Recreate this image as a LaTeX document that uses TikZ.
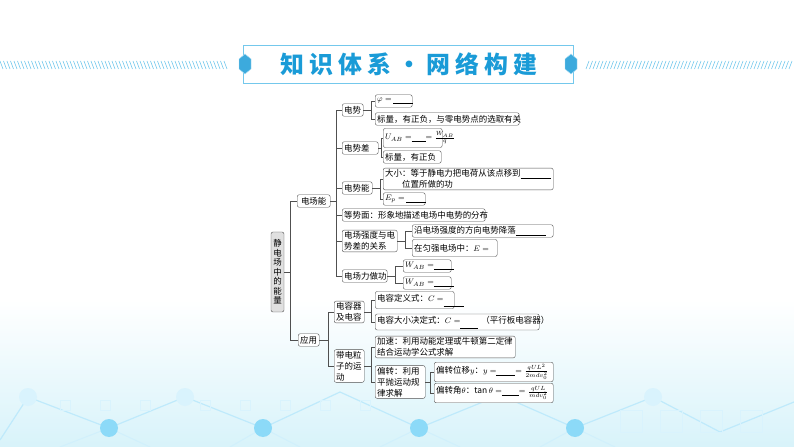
\documentclass[tikz,border=0pt]{standalone}
\usepackage{amsmath}
\usepackage{fontspec}
\setmainfont{Noto Sans CJK SC}
\newfontfamily\biaoti[LetterSpace=22]{Noto Sans CJK SC}
\usetikzlibrary{calc}

\definecolor{titlebl}{HTML}{1A9BD7}
\definecolor{linebl}{HTML}{74C8EC}
\definecolor{kuang}{HTML}{505050}
\definecolor{dibl}{HTML}{D8F3FA}

% blank to fill in
\newcommand{\tiankong}[2][-1.5bp]{\rule[#1]{#2}{0.4bp}}

\tikzset{
  kuai/.style={draw=kuang, rounded corners=2bp, fill=white, anchor=west,
    inner xsep=2bp, inner ysep=1.5bp, align=left, minimum height=12.5bp,
    font=\fontsize{8.5}{11}\selectfont},
  lian/.style={draw=kuang, line width=0.5bp},
}

\begin{document}
\begin{tikzpicture}[x=1bp, y=-1bp]
  \useasboundingbox (0,0) rectangle (794,447);

  % bottom background
  \shade[top color=white, bottom color=dibl] (0,300) rectangle (794,447);
  \draw[cyan!25, line width=1.2bp] (0,440) -- (28,397) -- (109,428) -- (185,397)
    -- (263,428) -- (340,392) -- (419,428) -- (500,395) -- (575,428)
    -- (653,397) -- (720,432) -- (794,402);
  \draw[cyan!18, line width=1bp] (60,447) -- (109,428) -- (150,447)
    (230,447) -- (263,428) -- (300,447) (380,447) -- (419,428) -- (460,447)
    (540,447) -- (575,428) -- (615,447);
  \foreach \x in {60,100,140,200,240,280,320,360} {
    \draw[cyan!15] (\x,400) rectangle ++(10,10);
  }
  \foreach \x in {620,660,700,740} {
    \draw[cyan!15] (\x,410) rectangle ++(22,22);
  }
  \foreach \x/\y in {28/397,185/397,653/397} {
    \fill[cyan!15] (\x,\y) circle (9);
  }
  \foreach \x/\y in {109/428,263/428,419/428,575/428} {
    \fill[cyan!45] (\x,\y) circle (9);
  }

  % title banner
  \foreach \i in {0,3.5,...,226} {
    \draw[linebl, line width=0.6bp] (\i,61) -- (\i+3,69);
  }
  \foreach \i in {586,589.5,...,792} {
    \draw[linebl, line width=0.6bp] (\i,69) -- (\i+3,61);
  }
  \draw[linebl, line width=0.8bp, fill=white] (243,45) rectangle (573,83);
  \foreach \x in {245,571} {
    \draw[linebl!60, fill=titlebl!85] (\x,54) -- (\x+6,59) -- (\x+6,69)
      -- (\x,74) -- (\x-6,69) -- (\x-6,59) -- cycle;
  }
  \node[text=titlebl, font=\fontsize{24}{24}\selectfont\biaoti\bfseries]
    (biaoti) at (409,64) {知识体系·网络构建};

  % root
  \node[kuai, fill=black!12, anchor=center, align=center, text width=9bp,
    inner xsep=2bp, minimum height=80bp, font=\fontsize{8.5}{9.5}\selectfont]
    (root) at (277.5,272) {静\\电\\场\\中\\的\\能\\量};

  % first level
  \node[kuai, align=center, text width=29bp] (dcn) at (297,201) {电场能};
  \node[kuai, align=center, text width=17bp] (yy) at (298,340) {应用};

  % 电场能
  \node[kuai, text width=17bp] (ds) at (342,110) {电势};
  \node[kuai, text width=32bp] (dsc) at (342,148) {电势差};
  \node[kuai, text width=26bp] (dsn) at (342,188) {电势能};
  \node[kuai, text width=139bp] (dsm) at (342,215) {\mbox{等势面：形象地描述电场中电势的分布}};
  \node[kuai, text width=51bp] (gx) at (342,241) {电场强度与电\\势差的关系};
  \node[kuai, text width=41bp] (zg) at (342,276) {电场力做功};

  % 应用
  \node[kuai, text width=26bp] (drq) at (334,312) {电容器\\及电容};
  \node[kuai, text width=26bp] (dlz) at (334,366) {带电粒\\子的运\\动};

  % third level
  \node[kuai, text width=33bp] (phi) at (375,101) {\mbox{$\varphi=$\,\tiankong{20bp}}};
  \node[kuai, text width=140bp] (bl1) at (375,119) {\mbox{标量，有正负，与零电势点的选取有关}};
  \node[kuai, text width=55bp, minimum height=19bp] (uab) at (383,138)
    {\mbox{$U_{AB}=$\tiankong{14bp}$=\tfrac{W_{AB}}{q}$}};
  \node[kuai, text width=54bp] (bl2) at (383,157) {\mbox{标量，有正负}};
  \node[kuai, text width=166bp] (dx) at (383,179)
    {\mbox{大小：等于静电力把电荷从该点移到\tiankong{30bp}}\\\hspace*{2em}位置所做的功};
  \node[kuai, text width=38bp] (ep) at (383,199) {\mbox{$E_p=$\,\tiankong{20bp}}};
  \node[kuai, text width=137bp] (yd) at (412,231) {\mbox{沿电场强度的方向电势降落\tiankong{30bp}}};
  \node[kuai, text width=81bp, minimum height=17bp] (yq) at (412,248) {\mbox{在匀强电场中：$E=$}};
  \node[kuai, text width=44bp] (w1) at (403,266) {\mbox{$W_{AB}=$\tiankong{20bp}}};
  \node[kuai, text width=44bp] (w2) at (403,283) {\mbox{$W_{AB}=$\tiankong{20bp}}};
  \node[kuai, text width=75bp, minimum height=17bp] (cdy) at (375,300)
    {\mbox{电容定义式：$C=$\tiankong[-5bp]{20bp}}};
  \node[kuai, text width=160bp, minimum height=16bp] (cjd) at (375,322)
    {\mbox{电容大小决定式：$C=$\tiankong[-5bp]{18bp}\hspace{3bp}（平行板电容器）}};
  \node[kuai, text width=136bp] (js) at (375,347) {加速：利用动能定理或牛顿第二定律\\结合运动学公式求解};
  \node[kuai, text width=46bp] (pz) at (375,382) {偏转：利用\\平抛运动规\\律求解};
  \node[kuai, text width=115bp, minimum height=19.5bp] (pw) at (434,372)
    {\mbox{偏转位移$y$：$y=$\tiankong{19bp}$=\tfrac{qUL^2}{2mdv_0^2}$}};
  \node[kuai, text width=115bp, minimum height=19.5bp] (pj) at (434,393)
    {\mbox{偏转角$\theta$：$\tan\theta=$\tiankong{17bp}$=\tfrac{qUL}{mdv_0^2}$}};

  % connectors
  \foreach \c in {dcn,yy} \draw[lian] (root.east) -- ++(6,0) |- (\c.west);
  \foreach \c in {ds,dsc,dsn,dsm,gx,zg} \draw[lian] (dcn.east) -- ++(6,0) |- (\c.west);
  \foreach \c in {drq,dlz} \draw[lian] (yy.east) -- ++(9,0) |- (\c.west);
  \foreach \c in {phi,bl1} \draw[lian] (ds.east) -- ++(8,0) |- (\c.west);
  \foreach \c in {uab,bl2} \draw[lian] (dsc.east) -- ++(3,0) |- (\c.west);
  \foreach \c in {dx,ep} \draw[lian] (dsn.east) -- ++(8,0) |- (\c.west);
  \foreach \c in {yd,yq} \draw[lian] (gx.east) -- ++(8,0) |- (\c.west);
  \foreach \c in {w1,w2} \draw[lian] (zg.east) -- ++(8,0) |- (\c.west);
  \foreach \c in {cdy,cjd} \draw[lian] (drq.east) -- ++(7,0) |- (\c.west);
  \foreach \c in {js,pz} \draw[lian] (dlz.east) -- ++(7,0) |- (\c.west);
  \foreach \c in {pw,pj} \draw[lian] (pz.east) -- ++(5,0) |- (\c.west);

\end{tikzpicture}
\end{document}
